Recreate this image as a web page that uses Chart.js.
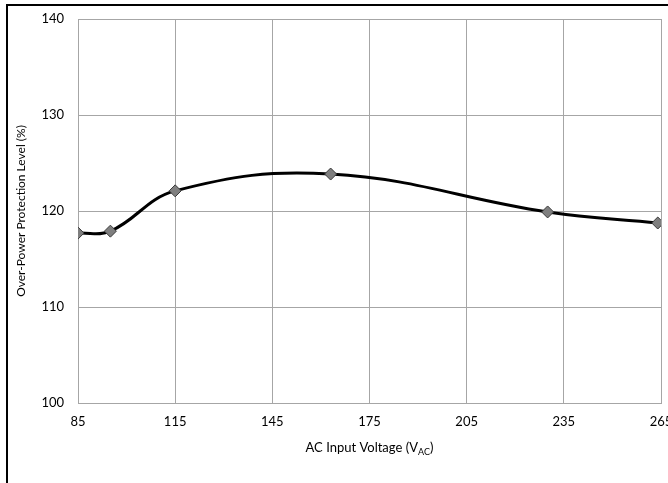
<!DOCTYPE html>
<html>
<head>
<meta charset="utf-8">
<script src="https://cdn.jsdelivr.net/npm/chart.js@4"></script>
<style>
  html, body { margin: 0; padding: 0; background: #fff; }
  #wrap { width: 668px; height: 483px; }
</style>
</head>
<body>
<div id="wrap"><canvas id="oppChart" width="668" height="483"></canvas></div>
<script>
const voltages = [85, 95, 115, 163, 230, 264];
const oppLevel = [117.7, 117.9, 122.1, 123.85, 119.9, 118.75];
const xTicks = [85, 115, 145, 175, 205, 235, 265];
const yTicks = [100, 110, 120, 130, 140];

const FONT = "Lato, 'Open Sans', sans-serif";

const points = voltages.map((v, i) => ({ x: v, y: oppLevel[i] }));

// frame + axis titles (x title needs a subscript, so draw by hand)
const decorations = {
  id: 'decorations',
  beforeDraw(chart) {
    const ctx = chart.ctx;
    ctx.save();
    ctx.strokeStyle = '#000';
    ctx.lineWidth = 2;
    ctx.beginPath();
    ctx.moveTo(7, 483);
    ctx.lineTo(7, 5);
    ctx.lineTo(668, 5);
    ctx.stroke();
    ctx.restore();
  },
  afterDraw(chart) {
    const ctx = chart.ctx;
    const area = chart.chartArea;
    ctx.save();
    ctx.fillStyle = '#000';
    ctx.textBaseline = 'alphabetic';

    const main = 'AC Input Voltage (V';
    const sub = 'AC';
    const end = ')';
    ctx.font = '13px ' + FONT;
    const w1 = ctx.measureText(main).width;
    const w3 = ctx.measureText(end).width;
    ctx.font = '9px ' + FONT;
    const w2 = ctx.measureText(sub).width;
    const cx = (area.left + area.right) / 2;
    let x = cx - (w1 + w2 + w3) / 2;
    const base = 452;
    ctx.textAlign = 'left';
    ctx.font = '13px ' + FONT;
    ctx.fillText(main, x, base);
    x += w1;
    ctx.font = '9px ' + FONT;
    ctx.fillText(sub, x, base + 3);
    x += w2;
    ctx.font = '13px ' + FONT;
    ctx.fillText(end, x, base);

    ctx.translate(21, (area.top + area.bottom) / 2);
    ctx.rotate(-Math.PI / 2);
    ctx.textAlign = 'center';
    ctx.textBaseline = 'middle';
    ctx.font = '12px ' + FONT;
    ctx.fillText('Over-Power Protection Level (%)', 0, 0);
    ctx.restore();
  }
};

new Chart(document.getElementById('oppChart').getContext('2d'), {
  type: 'line',
  data: {
    datasets: [{
      data: points,
      borderColor: '#000',
      borderWidth: 3,
      tension: 0.4,
      pointStyle: 'rectRot',
      pointRadius: 6,
      pointHoverRadius: 6,
      pointBackgroundColor: '#7f7f7f',
      pointBorderColor: '#3a3a3a',
      pointBorderWidth: 1,
      fill: false
    }]
  },
  options: {
    responsive: false,
    animation: false,
    events: [],
    layout: { padding: { left: 8, top: 19, right: 7, bottom: 0 } },
    plugins: {
      legend: { display: false },
      tooltip: { enabled: false }
    },
    scales: {
      x: {
        type: 'linear',
        min: 85,
        max: 265,
        afterBuildTicks: s => { s.ticks = xTicks.map(v => ({ value: v })); },
        afterFit: s => { s.height = 80; s.paddingLeft = 0; s.paddingRight = 0; },
        grid: { color: '#a6a6a6', lineWidth: 1, drawTicks: false },
        border: { color: '#a6a6a6' },
        ticks: { padding: 11, color: '#000', font: { family: FONT, size: 13 }, maxRotation: 0 }
      },
      y: {
        min: 100,
        max: 140,
        afterBuildTicks: s => { s.ticks = yTicks.map(v => ({ value: v })); },
        afterFit: s => { s.width = 70; s.paddingTop = 0; s.paddingBottom = 0; },
        grid: { color: '#a6a6a6', lineWidth: 1, drawTicks: false },
        border: { color: '#a6a6a6' },
        ticks: { padding: 14, color: '#000', font: { family: FONT, size: 13 } }
      }
    }
  },
  plugins: [decorations]
});
</script>
</body>
</html>
